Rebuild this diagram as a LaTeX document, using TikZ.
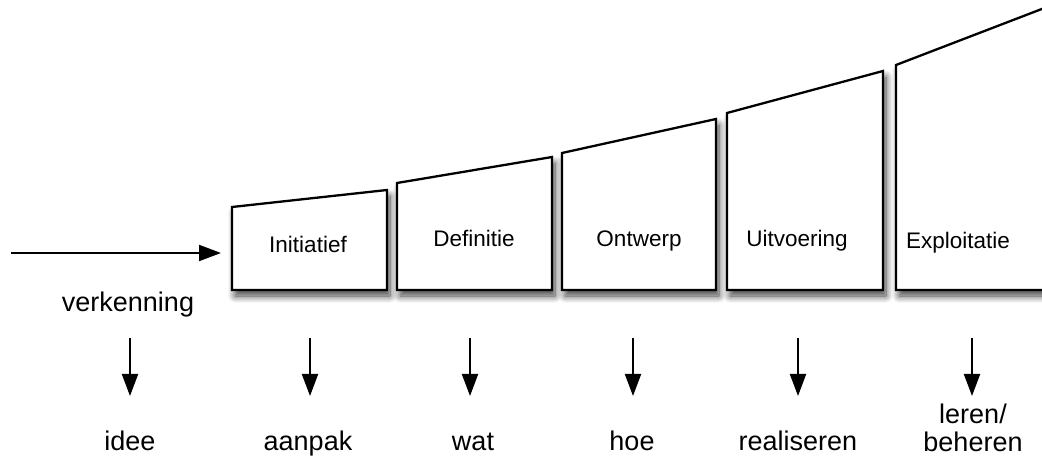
\documentclass[tikz,border=0pt]{standalone}
\usepackage{fontspec}
\setmainfont{Liberation Sans}
\usetikzlibrary{arrows.meta,shadows.blur}
\tikzset{
  phase/.style={draw=black, line width=2.3pt, fill=white, line join=miter,
    blur shadow={shadow xshift=3pt, shadow yshift=-6pt, shadow blur steps=10, shadow blur radius=7pt, shadow opacity=75}},
  boxlabel/.style={font=\fontsize{22.5}{26}\selectfont, inner sep=0pt, anchor=base},
  lowlabel/.style={font=\fontsize{27}{28}\selectfont, inner sep=0pt, align=center, anchor=base},
  arr/.style={draw=black, line width=2pt, opacity=1, -{Triangle[length=22pt,width=16pt,fill=black]}},
}
\begin{document}
\begin{tikzpicture}[x=1pt,y=-1pt]
\useasboundingbox (0,0) rectangle (1042,470);
% entry arrow
\coordinate (start) at (11,253);
\coordinate (entry) at (221,253);
\draw[arr] (start) -- (entry);
% down arrows
\foreach \x/\n in {130/a,310/b,470/c,633/d,798/e,972/f}{
  \coordinate (t\n) at (\x,338);
  \coordinate (h\n) at (\x,396);
  \draw[arr] (t\n) -- (h\n);
}
% phase boxes
\draw[phase] (232,207) -- (387,190) -- (387,290) -- (232,290) -- cycle;
\draw[phase] (397,183) -- (552,157) -- (552,290) -- (397,290) -- cycle;
\draw[phase] (562,153) -- (716,119) -- (716,290) -- (562,290) -- cycle;
\draw[phase] (727,113) -- (883,71) -- (883,290) -- (727,290) -- cycle;
\draw[phase] (896,65) -- (1060,2) -- (1060,290) -- (896,290) -- cycle;
\node[boxlabel] (ini) at (308,252.5) {Initiatief};
\node[boxlabel] (def) at (474,247) {Definitie};
\node[boxlabel] (ont) at (639,247) {Ontwerp};
\node[boxlabel] (uit) at (797,247) {Uitvoering};
\node[boxlabel] (exp) at (958,249) {Exploitatie};
\node[lowlabel] (verk) at (128,312) {verkenning};
% bottom labels
\node[lowlabel] (idee) at (130,450) {idee};
\node[lowlabel] (aanpak) at (308,450) {aanpak};
\node[lowlabel] (wat) at (473,450) {wat};
\node[lowlabel] (hoe) at (632,450) {hoe};
\node[lowlabel] (real) at (798,450) {realiseren};
\node[lowlabel] (leren) at (973,423) {leren/};
\node[lowlabel] (beh) at (973,451) {beheren};
\end{tikzpicture}
\end{document}
